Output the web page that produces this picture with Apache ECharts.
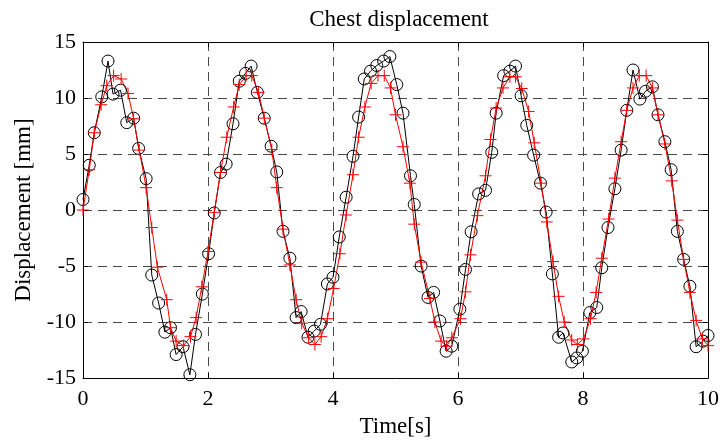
<!DOCTYPE html>
<html>
<head>
<meta charset="utf-8">
<script src="https://cdn.jsdelivr.net/npm/echarts@6/dist/echarts.min.js"></script>
<style>
  html, body { margin: 0; padding: 0; background: #fff; }
  #chart { width: 722px; height: 443px; }
</style>
</head>
<body>
<div id="chart"></div>
<script>
// Medida (circulos negros)
const timeMeasured = [
  0, 0.10, 0.18, 0.30, 0.40, 0.48, 0.60, 0.70, 0.81, 0.89,
  1.01, 1.10, 1.21, 1.31, 1.40, 1.49, 1.60, 1.71, 1.80, 1.91,
  2.01, 2.10, 2.20, 2.29, 2.40, 2.50, 2.60, 2.69, 2.79, 2.90,
  3.01, 3.10, 3.20, 3.31, 3.41, 3.49, 3.60, 3.70, 3.80, 3.91,
  4.00, 4.10, 4.21, 4.32, 4.41, 4.50, 4.60, 4.70, 4.81, 4.91,
  5.02, 5.12, 5.24, 5.30, 5.41, 5.52, 5.61, 5.71, 5.81, 5.90,
  6.03, 6.12, 6.21, 6.33, 6.44, 6.54, 6.61, 6.73, 6.83, 6.92,
  7.01, 7.10, 7.21, 7.32, 7.41, 7.51, 7.61, 7.68, 7.82, 7.90,
  7.99, 8.11, 8.22, 8.30, 8.40, 8.51, 8.61, 8.70, 8.80, 8.91,
  9.00, 9.11, 9.20, 9.31, 9.41, 9.51, 9.61, 9.71, 9.81, 9.92,
  10.0
];
const dispMeasured = [
  0.94, 4.0, 6.9, 10.1, 13.3, 10.35, 10.7, 7.8, 8.2, 5.5,
  2.8, -5.8, -8.3, -10.9, -10.5, -12.9, -12.2, -14.7, -11.1, -7.5,
  -3.9, -0.26, 3.35, 4.1, 7.7, 11.5, 12.2, 12.85, 10.5, 8.2,
  5.7, 3.4, -1.9, -4.3, -9.6, -9.06, -11.35, -10.8, -10.2, -6.6,
  -6.0, -2.4, 1.15, 4.8, 8.3, 11.7, 12.4, 12.9, 13.3, 13.7,
  11.2, 8.65, 3.06, 0.5, -5.0, -7.8, -7.35, -9.9, -12.6, -12.15,
  -8.85, -5.3, -1.94, 1.44, 1.76, 5.15, 8.65, 12.0, 12.4, 12.85,
  10.2, 7.56, 4.9, 2.4, -0.18, -5.7, -11.35, -10.97, -13.56, -13.2,
  -12.6, -9.15, -8.7, -5.15, -1.56, 1.9, 5.35, 8.9, 12.5, 9.9,
  10.6, 11.0, 8.5, 6.1, 3.6, -1.9, -4.4, -6.8, -12.2, -11.7,
  -11.2
];

// Estimada (cruces rojas)
const timeEstimated = [
  0, 0.10, 0.18, 0.29, 0.38, 0.49, 0.61, 0.72, 0.81, 0.90,
  1.01, 1.10, 1.19, 1.34, 1.40, 1.49, 1.61, 1.72, 1.81, 1.90,
  2.00, 2.10, 2.20, 2.30, 2.41, 2.50, 2.61, 2.70, 2.81, 2.90,
  3.02, 3.10, 3.20, 3.31, 3.41, 3.50, 3.61, 3.71, 3.81, 3.91,
  4.01, 4.11, 4.21, 4.32, 4.41, 4.51, 4.61, 4.72, 4.82, 4.92,
  5.00, 5.12, 5.23, 5.30, 5.41, 5.55, 5.63, 5.73, 5.82, 5.90,
  6.04, 6.12, 6.20, 6.31, 6.44, 6.52, 6.61, 6.72, 6.83, 6.92,
  7.02, 7.13, 7.22, 7.33, 7.42, 7.52, 7.61, 7.70, 7.82, 7.91,
  8.01, 8.12, 8.21, 8.30, 8.41, 8.51, 8.61, 8.70, 8.80, 8.90,
  9.01, 9.11, 9.20, 9.31, 9.42, 9.51, 9.61, 9.71, 9.81, 9.91,
  10.0
];
const dispEstimated = [
  0, 3.6, 6.9, 9.4, 11.1, 12.0, 11.7, 10.4, 8.15, 5.35,
  2.0, -1.56, -5.1, -8.0, -10.5, -11.7, -12.1, -11.3, -9.6, -6.85,
  -3.7, -0.2, 3.35, 6.5, 9.2, 11.2, 12.0, 12.0, 10.5, 8.2,
  5.4, 2.0, -1.7, -4.9, -8.0, -10.1, -11.4, -12.0, -11.3, -9.7,
  -7.0, -3.9, -0.44, 3.15, 6.5, 9.2, 11.3, 12.0, 12.0, 10.9,
  8.5, 5.65, 2.4, -1.26, -4.65, -7.9, -10.0, -11.7, -12.15, -11.4,
  -9.7, -7.3, -4.0, -0.5, 3.06, 6.3, 9.1, 10.9, 11.9, 11.9,
  10.85, 8.8, 6.0, 2.4, -1.06, -4.6, -7.7, -10.0, -11.6, -12.0,
  -11.5, -9.7, -7.35, -4.3, -0.8, 2.85, 6.1, 8.9, 10.9, 12.0,
  12.0, 10.9, 8.5, 5.9, 2.6, -0.9, -4.4, -7.35, -9.85, -11.5,
  -12.1
];

const xTicks = [0, 2, 4, 6, 8, 10];
const yTicks = [-15, -10, -5, 0, 5, 10, 15];

const font = 'Liberation Serif';
const pares = (t, v) => t.map((x, i) => [x, v[i]]);

const gridLine = { show: true, lineStyle: { color: '#4a4a4a', type: [9, 6], width: 1 } };
const tick = { show: true, inside: true, length: 5, lineStyle: { color: '#000' } };
const eje = { show: true, onZero: false, lineStyle: { color: '#000', width: 1 } };

const option = {
  backgroundColor: '#fff',
  animation: false,
  title: {
    text: 'Chest displacement',
    left: 394, top: 3, textAlign: 'center',
    textStyle: { fontFamily: font, fontSize: 23, fontWeight: 'normal', color: '#000' }
  },
  grid: { left: 83, right: 12, top: 42, bottom: 60 },
  xAxis: [
    {
      type: 'value', min: xTicks[0], max: xTicks[xTicks.length - 1], interval: 2,
      axisLine: eje, axisTick: tick, splitLine: gridLine,
      axisLabel: { fontFamily: font, fontSize: 22, color: '#000', margin: 10 },
      name: 'Time[s]', nameLocation: 'middle', nameGap: 35,
      nameTextStyle: { fontFamily: font, fontSize: 23, color: '#000' }
    },
    {
      type: 'value', position: 'top', min: 0, max: 10, interval: 2,
      axisLine: eje, axisTick: tick, axisLabel: { show: false }, splitLine: { show: false }
    }
  ],
  yAxis: [
    {
      type: 'value', min: yTicks[0], max: yTicks[yTicks.length - 1], interval: 5,
      axisLine: eje, axisTick: tick, splitLine: gridLine,
      axisLabel: { fontFamily: font, fontSize: 22, color: '#000', margin: 7 },
      name: 'Displacement [mm]', nameLocation: 'middle', nameGap: 45,
      nameTextStyle: { fontFamily: font, fontSize: 23, color: '#000' }
    },
    {
      type: 'value', position: 'right', min: -15, max: 15, interval: 5,
      axisLine: eje, axisTick: tick, axisLabel: { show: false }, splitLine: { show: false }
    }
  ],
  series: [
    {
      type: 'line',
      data: pares(timeMeasured, dispMeasured),
      symbol: 'circle', symbolSize: 12,
      lineStyle: { color: '#000', width: 1 },
      itemStyle: { color: 'rgba(0,0,0,0)', borderColor: '#000', borderWidth: 1 }
    },
    {
      type: 'line',
      data: pares(timeEstimated, dispEstimated),
      symbol: 'path://M5,0L5,10M0,5L10,5', symbolSize: 12,
      lineStyle: { color: '#ff0000', width: 1 },
      itemStyle: { color: 'none', borderColor: '#ff0000', borderWidth: 1 }
    }
  ]
};

const chart = echarts.init(document.getElementById('chart'));
chart.setOption(option);
</script>
</body>
</html>
